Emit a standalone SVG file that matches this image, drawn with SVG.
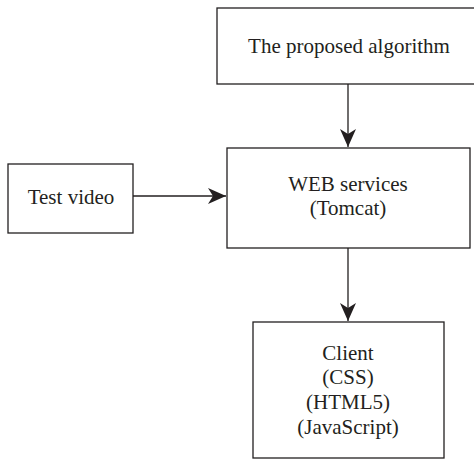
<svg xmlns="http://www.w3.org/2000/svg" width="474" height="461" viewBox="0 0 474 461">
<defs>
<style>
.box{fill:#fff;stroke:#231f20;stroke-width:1.3}
.lbl{font-family:"Liberation Serif",serif;font-size:21px;fill:#231f20;text-anchor:middle}
.conn{stroke:#231f20;stroke-width:1.3;fill:none}
</style>
<marker id="ah" markerWidth="19" markerHeight="16" refX="18" refY="8" orient="auto" markerUnits="userSpaceOnUse">
<path d="M0,0 L18,8 L0,16 L5,8 Z" fill="#231f20"/>
</marker>
</defs>
<rect width="474" height="461" fill="#fff"/>
<g id="algorithm">
<rect class="box" x="217" y="8" width="270" height="76"/>
<text class="lbl" x="349" y="53">The proposed algorithm</text>
</g>
<g id="web">
<rect class="box" x="227" y="148" width="243" height="100"/>
<text class="lbl" x="348" y="191">WEB services</text>
<text class="lbl" x="348" y="215">(Tomcat)</text>
</g>
<g id="test">
<rect class="box" x="8" y="164" width="125" height="69"/>
<text class="lbl" x="71" y="204">Test video</text>
</g>
<g id="client">
<rect class="box" x="253" y="322" width="191" height="136"/>
<text class="lbl" x="348" y="360">Client</text>
<text class="lbl" x="348" y="384">(CSS)</text>
<text class="lbl" x="348" y="409">(HTML5)</text>
<text class="lbl" x="348" y="434">(JavaScript)</text>
</g>
<g id="connectors">
<line class="conn" x1="348" y1="84" x2="348" y2="147" marker-end="url(#ah)"/>
<line class="conn" x1="133" y1="196" x2="226" y2="196" marker-end="url(#ah)"/>
<line class="conn" x1="348" y1="248" x2="348" y2="321" marker-end="url(#ah)"/>
</g>
</svg>
